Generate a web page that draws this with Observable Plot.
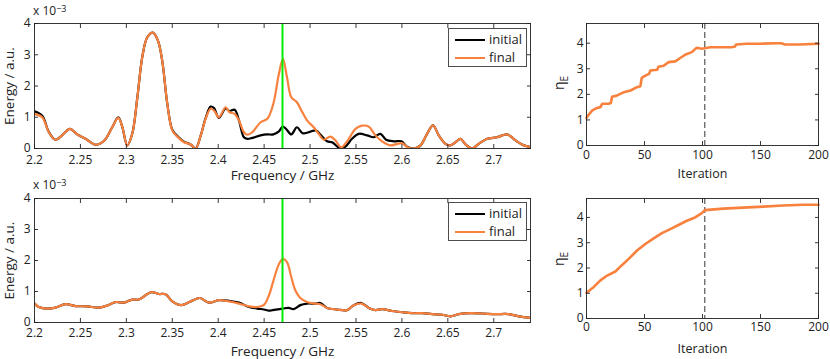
<!DOCTYPE html>
<html><head><meta charset="utf-8">
<script src="https://cdn.jsdelivr.net/npm/d3@7"></script>
<script src="https://cdn.jsdelivr.net/npm/@observablehq/plot@0.6"></script>
<style>
body{margin:0;background:#fff;}
#root{position:relative;width:830px;height:359px;font-family:"Open Sans",sans-serif;color:#222;overflow:hidden;}
.panel{position:absolute;}
.legend{position:absolute;border:1px solid #4d4d4d;background:#fff;box-sizing:border-box;}
.legend .row{position:absolute;left:0;height:16px;}
.legend .smp{position:absolute;left:6px;width:30px;top:7px;height:0;border-top:2.5px solid;}
.legend .lab{position:absolute;left:40px;top:-2px;font-size:13px;line-height:18px;}
.eta{position:absolute;font-size:14px;transform:rotate(-90deg);transform-origin:center center;}
.eta sub{font-size:10px;}
.exp{position:absolute;font-size:12px;line-height:14px;}
.exp sup{font-size:9px;position:relative;top:-2px;vertical-align:top;}
</style></head><body><div id="root"></div><script>
// ---- data ----
const freqTicks = [2.2, 2.25, 2.3, 2.35, 2.4, 2.45, 2.5, 2.55, 2.6, 2.65, 2.7];
const freqTickLabels = ["2.2","2.25","2.3","2.35","2.4","2.45","2.5","2.55","2.6","2.65","2.7"];
const energyTicks = [0, 1, 2, 3, 4];
const iterTicks = [0, 50, 100, 150, 200];
const etaTicks = [0, 1, 2, 3, 4];
const targetFreq = 2.47;
const switchIteration = 102;
const seriesNames = ["initial", "final"];

// top spectrum (energy x 1e-3)
const topFinalFreq = [2.200,2.2084,2.2156,2.2229,2.230,2.2385,2.2465,2.2556,2.2665,2.2755,2.2846,2.2912,2.2955,2.301,2.3064,2.312,2.3173,2.3228,2.3289,2.3343,2.339,2.3446,2.350,2.3555,2.3627,2.370,2.3754,2.381,2.3863,2.3917,2.3953,2.4008,2.408,2.4124,2.4179,2.4226,2.428,2.4317,2.4371,2.4462,2.4535,2.460,2.4661,2.4705,2.4749,2.4796,2.4857,2.4905,2.4967,2.504,2.5094,2.5148,2.5221,2.5276,2.5341,2.5421,2.5494,2.5566,2.5639,2.5712,2.5784,2.5876,2.5929,2.6001,2.6056,2.6129,2.6202,2.6274,2.6339,2.6401,2.6474,2.6529,2.6583,2.6638,2.6692,2.6764,2.6837,2.6928,2.7037,2.7146,2.7237,2.7327,2.740];
const topFinalEnergy = [1.11,1.00,0.52,0.28,0.42,0.63,0.45,0.31,0.12,0.24,0.68,0.98,0.70,0.10,0.47,1.64,2.92,3.56,3.71,3.46,2.82,1.43,0.58,0.38,0.20,0.13,0.00,0.42,0.95,1.27,1.22,1.00,1.32,1.16,1.11,0.90,0.52,0.44,0.52,0.84,0.95,1.43,2.39,2.87,2.28,1.64,1.48,1.22,0.90,0.68,0.47,0.28,0.38,0.26,0.04,0.31,0.63,0.73,0.70,0.42,0.23,0.10,0.13,0.17,0.05,0.00,0.10,0.47,0.74,0.42,0.15,0.10,0.20,0.31,0.13,0.00,0.15,0.31,0.36,0.45,0.26,0.10,0.05];
const topInitialFreq = [2.200,2.2084,2.2156,2.2229,2.230,2.2385,2.2465,2.2556,2.2665,2.2755,2.2846,2.2912,2.2955,2.301,2.3064,2.312,2.3173,2.3228,2.3289,2.3343,2.339,2.3446,2.350,2.3555,2.3627,2.370,2.3754,2.381,2.3863,2.3917,2.3953,2.4008,2.408,2.4124,2.4179,2.4226,2.428,2.4317,2.4371,2.4462,2.4535,2.460,2.4661,2.4702,2.4738,2.4796,2.4857,2.4919,2.4985,2.5065,2.5112,2.5185,2.524,2.533,2.5385,2.5457,2.553,2.5621,2.5693,2.5766,2.5827,2.5911,2.5995,2.6056,2.6129,2.6202,2.6274,2.6339,2.6401,2.6474,2.6529,2.6583,2.6638,2.6692,2.6764,2.6837,2.6928,2.7037,2.7146,2.7237,2.7327,2.740];
const topInitialEnergy = [1.19,1.05,0.53,0.28,0.42,0.63,0.45,0.31,0.12,0.24,0.68,1.00,0.70,0.10,0.47,1.64,2.92,3.56,3.71,3.46,2.82,1.43,0.60,0.40,0.22,0.13,0.00,0.42,0.97,1.34,1.30,0.98,1.28,1.20,1.24,0.90,0.36,0.31,0.34,0.42,0.45,0.45,0.55,0.70,0.63,0.45,0.68,0.49,0.52,0.58,0.45,0.23,0.20,0.00,0.06,0.31,0.47,0.42,0.36,0.47,0.28,0.23,0.23,0.06,0.00,0.10,0.47,0.74,0.42,0.15,0.10,0.20,0.31,0.13,0.00,0.15,0.31,0.36,0.45,0.26,0.10,0.05];

// bottom spectrum (energy x 1e-3)
const botFinalFreq = [2.200,2.2047,2.2138,2.2229,2.2338,2.2447,2.2574,2.270,2.2792,2.2882,2.2973,2.3064,2.3136,2.3209,2.3275,2.3354,2.3427,2.350,2.3598,2.370,2.3801,2.3899,2.4008,2.4117,2.4226,2.4335,2.4426,2.4498,2.4553,2.4607,2.4662,2.4705,2.4749,2.4796,2.4839,2.4894,2.4967,2.5058,2.5112,2.5185,2.5294,2.5403,2.5475,2.5559,2.5639,2.5712,2.5784,2.5893,2.6002,2.6111,2.622,2.6329,2.6438,2.6529,2.662,2.6747,2.6874,2.7019,2.7164,2.7273,2.740];
const botFinalEnergy = [0.61,0.50,0.45,0.48,0.59,0.53,0.52,0.48,0.55,0.66,0.64,0.74,0.74,0.88,0.98,0.92,0.91,0.68,0.56,0.68,0.79,0.64,0.72,0.68,0.61,0.52,0.50,0.57,0.88,1.41,1.89,2.05,1.95,1.46,1.04,0.79,0.66,0.61,0.59,0.47,0.42,0.40,0.56,0.61,0.47,0.40,0.43,0.37,0.33,0.30,0.30,0.27,0.25,0.20,0.27,0.30,0.29,0.27,0.27,0.20,0.15];
const botInitialFreq = [2.200,2.2047,2.2138,2.2229,2.2338,2.2447,2.2574,2.270,2.2792,2.2882,2.2973,2.3064,2.3136,2.3209,2.3275,2.3354,2.3427,2.350,2.3598,2.370,2.3801,2.3899,2.4008,2.4117,2.4226,2.4335,2.4426,2.4498,2.4553,2.4607,2.4705,2.4767,2.4821,2.4894,2.4967,2.5058,2.5112,2.5185,2.5294,2.5403,2.5475,2.5559,2.5639,2.5712,2.5784,2.5893,2.6002,2.6111,2.622,2.6329,2.6438,2.6529,2.662,2.6747,2.6874,2.7019,2.7164,2.7273,2.740];
const botInitialEnergy = [0.61,0.50,0.45,0.48,0.59,0.53,0.52,0.48,0.55,0.66,0.64,0.74,0.74,0.88,0.98,0.92,0.91,0.68,0.56,0.68,0.79,0.64,0.72,0.70,0.64,0.50,0.45,0.42,0.38,0.41,0.45,0.47,0.43,0.56,0.61,0.61,0.63,0.47,0.42,0.40,0.56,0.63,0.47,0.40,0.43,0.37,0.33,0.30,0.30,0.27,0.25,0.20,0.27,0.30,0.29,0.27,0.27,0.20,0.15];

// optimisation histories
const topIter = [0,2,5,9,12,13.5,19,21,22,26,32,38,43.5,46.5,47.5,48.5,52,54,55,59,61,62,66.5,70.8,76.5,80.8,85,90.8,95,99.5,106.6,118,125,128,129,138,149.5,163.8,168,171,184,200];
const topEta  = [1.08,1.21,1.37,1.47,1.50,1.63,1.63,1.66,1.91,1.95,2.08,2.15,2.28,2.32,2.62,2.67,2.76,2.80,2.93,2.95,2.96,3.08,3.12,3.26,3.29,3.42,3.55,3.65,3.82,3.78,3.84,3.84,3.84,3.87,3.95,3.98,3.98,4.00,4.00,3.95,3.95,3.98];
const botIter = [0,6.3,12,17.8,24.9,30.7,36.4,43.6,50.7,57.9,65,72.2,79.3,86.5,93.6,99.4,102,118,135,152.4,169.6,186.8,200];
const botEta  = [1.02,1.25,1.51,1.70,1.86,2.12,2.36,2.69,2.95,3.17,3.38,3.54,3.70,3.87,4.00,4.17,4.29,4.35,4.39,4.43,4.47,4.50,4.50];

// ---- drawing ----
const ORANGE = "#f8813d";
const INK = "#222";
const root = document.getElementById("root");
const rows = (xs, ys) => xs.map((x, i) => ({x, y: ys[i]}));
const fmtFreq = d => freqTickLabels[freqTicks.indexOf(d)];
const blank = () => "";

function frameAxes(xTicks, yTicks, o) {
  const tk = {stroke: INK, strokeWidth: 0.9, label: null, tickFormat: blank, tickSize: 4};
  const marks = [
    Plot.frame({stroke: INK, strokeWidth: 0.9}),
    // tick labels
    Plot.axisX(xTicks, {anchor: "bottom", tickSize: 0, tickPadding: o.xPad, tickFormat: o.xFmt, label: null, fill: INK, fontSize: 12}),
    Plot.axisY(yTicks, {anchor: "left", tickSize: 0, tickPadding: o.yPad, label: null, fill: INK, fontSize: 12}),
    // axis titles
    Plot.axisX(xTicks, {anchor: "bottom", tickSize: 0, tickFormat: blank, label: o.xLabel, labelAnchor: "center", labelArrow: "none", labelOffset: o.xLabelOffset, fill: INK, fontSize: o.labelSize}),
    // inward ticks on all four sides
    Plot.axisX(xTicks, {...tk, anchor: "bottom", dy: -4}),
    Plot.axisX(xTicks, {...tk, anchor: "top", dy: 4}),
    Plot.axisY(yTicks, {...tk, anchor: "left", dx: 4}),
    Plot.axisY(yTicks, {...tk, anchor: "right", dx: -4})
  ];
  if (o.yLabel) marks.push(Plot.axisY(yTicks, {anchor: "left", tickSize: 0, tickFormat: blank, label: o.yLabel, labelAnchor: "center", labelArrow: "none", labelOffset: o.yLabelOffset, fill: INK, fontSize: o.labelSize}));
  return marks;
}

function place(el, left, top) {
  const d = document.createElement("div");
  d.className = "panel"; d.style.left = left + "px"; d.style.top = top + "px";
  d.appendChild(el); root.appendChild(d);
}

function spectrum(top, height, mb, iF, iE, fF, fE, xPad, xLabelOffset) {
  const p = Plot.plot({
    width: 540, height, marginLeft: 34, marginRight: 10, marginTop: 23, marginBottom: mb,
    style: {fontFamily: "Open Sans", fontSize: "12px", color: INK, background: "none", overflow: "visible"},
    x: {domain: [2.2, 2.74]},
    y: {domain: [0, 4]},
    marks: [
      Plot.line(rows(iF, iE), {x: "x", y: "y", stroke: "#000", strokeWidth: 2.2, curve: "catmull-rom", clip: true}),
      Plot.line(rows(fF, fE), {x: "x", y: "y", stroke: ORANGE, strokeWidth: 2.2, curve: "catmull-rom", clip: true}),
      Plot.ruleX([targetFreq], {stroke: "#00ee00", strokeWidth: 2}),
      ...frameAxes(freqTicks, energyTicks, {xPad, xFmt: fmtFreq, xLabel: "Frequency / GHz", xLabelOffset, yPad: 4, yLabel: "Energy / a.u.", yLabelOffset: 30, labelSize: 13.5})
    ]
  });
  place(p, 0, top);
}

function history(top, height, mb, it, eta, ymax, xPad, labelOffset) {
  const p = Plot.plot({
    width: 290, height, marginLeft: 46, marginRight: 12, marginTop: 23, marginBottom: mb,
    style: {fontFamily: "Open Sans", fontSize: "12px", color: INK, background: "none", overflow: "visible"},
    x: {domain: [0, 200]},
    y: {domain: [0, ymax]},
    marks: [
      Plot.ruleX([switchIteration], {stroke: "#333", strokeWidth: 1, strokeDasharray: "6,3"}),
      Plot.line(rows(it, eta), {x: "x", y: "y", stroke: ORANGE, strokeWidth: 2.6}),
      ...frameAxes(iterTicks, etaTicks, {xPad, xFmt: d => String(d), xLabel: "Iteration", xLabelOffset: labelOffset, yPad: 3, yLabel: null, labelSize: 12.5})
    ]
  });
  place(p, 540, top);
}

spectrum(0, 180, 32, topInitialFreq, topInitialEnergy, topFinalFreq, topFinalEnergy, 7, 31);
spectrum(175, 184, 37, botInitialFreq, botInitialEnergy, botFinalFreq, botFinalEnergy, 6, 33);
history(0, 180, 35, topIter, topEta, 4.77, 5, 32);
history(175, 184, 41, botIter, botEta, 4.75, 4, 34);

// overlays: legends, exponent notes, eta labels
function legend(left, top) {
  const box = document.createElement("div");
  box.className = "legend";
  Object.assign(box.style, {left: left + "px", top: top + "px", width: "79px", height: "39px"});
  [["#000", 3], [ORANGE, 21]].forEach(([c, y], i) => {
    const r = document.createElement("div"); r.className = "row"; r.style.top = y + "px";
    const s = document.createElement("div"); s.className = "smp"; s.style.borderTopColor = c;
    const t = document.createElement("div"); t.className = "lab"; t.textContent = seriesNames[i];
    r.appendChild(s); r.appendChild(t); box.appendChild(r);
  });
  root.appendChild(box);
}
legend(448, 28);
legend(448, 202);

function expNote(left, top) {
  const d = document.createElement("div"); d.className = "exp";
  d.style.left = left + "px"; d.style.top = top + "px";
  d.innerHTML = "x 10<sup>\u22123</sup>";
  root.appendChild(d);
}
expNote(33, 4);
expNote(33, 178);

function etaLabel(cx, cy) {
  const d = document.createElement("div"); d.className = "eta";
  d.innerHTML = "\u03B7<sub>E</sub>";
  root.appendChild(d);
  const w = d.offsetWidth, h = d.offsetHeight;
  d.style.left = (cx - w / 2) + "px"; d.style.top = (cy - h / 2) + "px";
}
etaLabel(560, 83);
etaLabel(560, 259);
</script></body></html>
